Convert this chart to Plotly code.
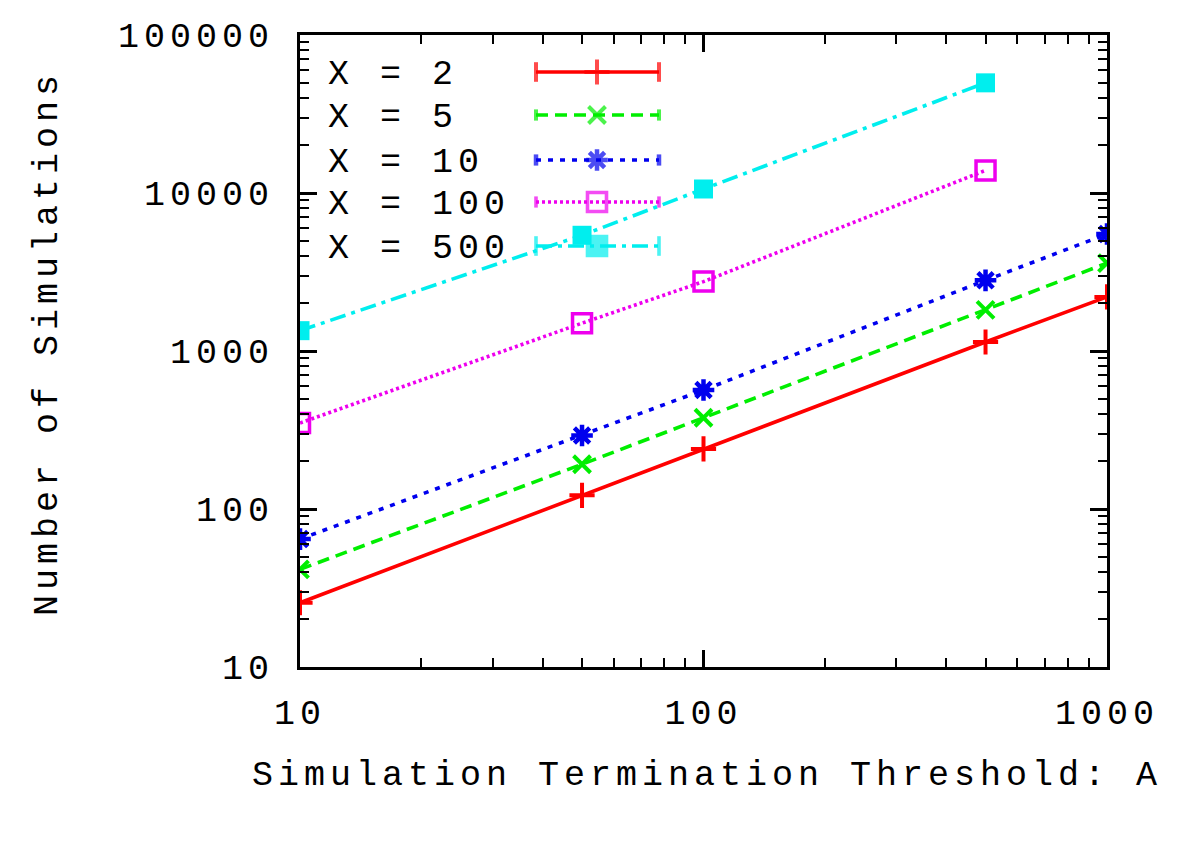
import plotly.graph_objects as go

# ---- data ----
A_full = [10, 50, 100, 500, 1000]
A_part = [10, 50, 100, 500]
n_x2 = [25.5, 122, 240, 1140, 2200]
n_x5 = [41.5, 192, 378, 1820, 3600]
n_x10 = [64.5, 292, 566, 2800, 5500]
n_x100 = [350, 1500, 2750, 13900]
n_x500 = [1345, 5400, 10600, 49800]
labels = ["X = 2", "X = 5", "X = 10", "X = 100", "X = 500"]
x_tickvals = [10, 100, 1000]
x_ticktext = ["10", "100", "1000"]
y_tickvals = [10, 100, 1000, 10000, 100000]
y_ticktext = ["10", "100", "1000", "10000", "100000"]
x_title = "Simulation Termination Threshold: A"
y_title = "Number of Simulations"

FONT = "Courier New, Nimbus Mono PS, Nimbus Mono L, FreeMono, Liberation Mono, monospace"
FS = 35
LS = 5  # letter spacing in px


def sp(t):
    return '<span style="letter-spacing:%dpx">%s</span>' % (LS, t)


# page body has an 8px margin; target pixel positions are compensated for it
OFF = 8
W, H = 1200, 843
L, R, T, B = 300 - OFF, 1107 - OFF, 35 - OFF, 667 - OFF

series = [
    dict(x=A_full, y=n_x2, color="#ff0000", dash="solid", sym="cross-thin", size=18, mlw=4, caps=14),
    dict(x=A_full, y=n_x5, color="#00ee00", dash="12px,7px", sym="x-thin", size=17, mlw=4, caps=8),
    dict(x=A_full, y=n_x10, color="#0000ee", dash="5px,7px", sym="asterisk-open", size=18, mlw=4.5, caps=8),
    dict(x=A_part, y=n_x100, color="#ee00ee", dash="3px,3px", sym="square-open", size=19, mlw=3.5, caps=8),
    dict(x=A_part, y=n_x500, color="#00eeee", dash="16px,6px,4px,6px", sym="square", size=19, mlw=0, caps=14),
]

fig = go.Figure()
for s, lab in zip(series, labels):
    fig.add_trace(go.Scatter(
        x=s["x"], y=s["y"], mode="lines+markers", name=lab, showlegend=False,
        line=dict(color=s["color"], width=3.6, dash=s["dash"]),
        marker=dict(symbol=s["sym"], size=s["size"], color=s["color"],
                    line=dict(color=s["color"], width=s["mlw"])),
    ))

# ---- manual key (drawn on an overlay axis in pixel units of the page) ----
key_y = [72, 115, 160, 202, 246]
x0, xm, x1 = 536, 597, 659
annotations = []
for s, lab, yk in zip(series, labels, key_y):
    fig.add_trace(go.Scatter(
        x=[x0, x1], y=[yk, yk], xaxis="x2", yaxis="y2", mode="lines",
        showlegend=False, hoverinfo="skip",
        line=dict(color=s["color"], width=3.6, dash=s["dash"]),
    ))
    fig.add_trace(go.Scatter(
        x=[x0, xm, x1], y=[yk, yk, yk], xaxis="x2", yaxis="y2", mode="markers",
        showlegend=False, hoverinfo="skip",
        marker=dict(symbol=["line-ns", s["sym"], "line-ns"],
                    size=[s["caps"], s["size"], s["caps"]], color=s["color"],
                    line=dict(color=s["color"], width=max(s["mlw"], 3.6))),
    ))
    annotations.append(dict(
        text=sp(lab), x=326, y=yk + 3, xref="x2", yref="y2", xanchor="left", yanchor="middle",
        showarrow=False, font=dict(family=FONT, size=FS, color="black"),
    ))

# axis titles
annotations.append(dict(
    text=sp(x_title), xref="paper", yref="paper",
    x=(707 - 300) / 807, y=(667 - 776) / 632, xanchor="center", yanchor="middle",
    showarrow=False, font=dict(family=FONT, size=FS, color="black"),
))
annotations.append(dict(
    text=sp(y_title), xref="paper", yref="paper", textangle=-90,
    x=(48 - 300) / 807, y=(667 - 343) / 632, xanchor="center", yanchor="middle",
    showarrow=False, font=dict(family=FONT, size=FS, color="black"),
))

axis_common = dict(
    showline=True, linecolor="black", linewidth=3, mirror="ticks",
    ticks="inside", tickcolor="black", tickwidth=2.5, ticklen=17,
    showgrid=False, zeroline=False,
    tickfont=dict(family=FONT, size=FS, color="black"),
    tickmode="array",
    minor=dict(ticks="inside", ticklen=9, tickwidth=2, tickcolor="black",
               tickmode="linear", dtick="D1", showgrid=False),
)

fig.update_layout(
    width=W, height=H,
    margin=dict(l=L, r=W - R, t=T, b=H - B, autoexpand=False),
    paper_bgcolor="white", plot_bgcolor="white",
    font=dict(family=FONT, size=FS, color="black"),
    xaxis=dict(type="log", range=[1, 3], ticklabelstandoff=12,
               tickvals=x_tickvals, ticktext=[sp(t) for t in x_ticktext], **axis_common),
    yaxis=dict(type="log", range=[1, 5], ticklabelstandoff=16,
               tickvals=y_tickvals, ticktext=[sp(t) for t in y_ticktext], **axis_common),
    xaxis2=dict(overlaying="x", range=[300, 1107], visible=False, fixedrange=True),
    yaxis2=dict(overlaying="y", range=[667, 35], visible=False, fixedrange=True),
    annotations=annotations,
    showlegend=False,
)

fig.write_html("out.html")
